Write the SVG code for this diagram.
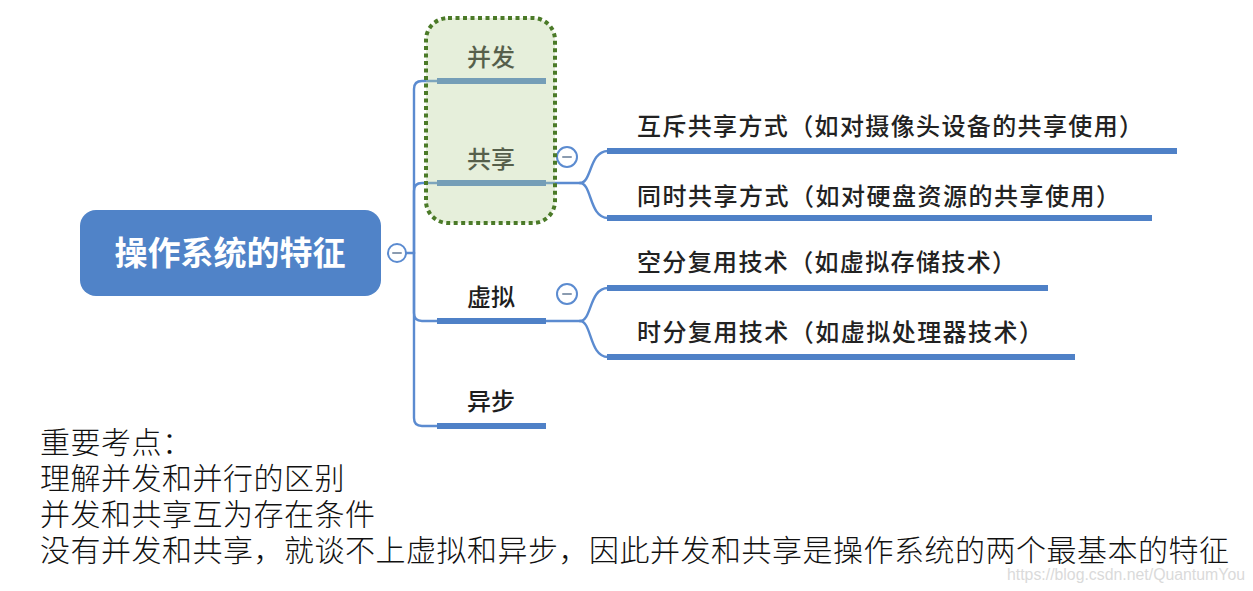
<svg xmlns="http://www.w3.org/2000/svg" width="1253" height="591" viewBox="0 0 1253 591">
<style>
  .conn{fill:none;stroke:#5b8bd0;stroke-width:2.4;stroke-linecap:round}
  .bar{fill:#4f81c7}
  .lbl{font-family:"Noto Sans CJK SC","Noto Sans",sans-serif;font-size:24px;font-weight:500;fill:#1e1e1e;text-anchor:middle}
  .sub{font-family:"Noto Sans CJK SC","Noto Sans",sans-serif;font-size:24px;font-weight:500;fill:#222}
  .tog{fill:#fff;stroke:#5b8bd0;stroke-width:2}
  .minus{stroke:#8a9bb0;stroke-width:2;stroke-linecap:round}
  .note{font-family:"Liberation Serif","Noto Sans CJK SC",serif;font-size:30px;font-weight:300;fill:#111;letter-spacing:0.5px}
</style>
<rect width="1253" height="591" fill="#fff"/>

<g id="connectors">
  <path class="conn" d="M406 253 H414"/>
  <path class="conn" d="M414 253 V89 Q414 81 422 81 H440"/>
  <path class="conn" d="M414 253 V191 Q414 183 422 183 H440"/>
  <path class="conn" d="M414 253 V313 Q414 321 422 321 H440"/>
  <path class="conn" d="M414 253 V418 Q414 426 422 426 H440"/>
  <path class="conn" d="M546 183 H580"/>
  <path class="conn" d="M580 183 C592 183 589 151 608 151"/>
  <path class="conn" d="M580 183 C592 183 589 218 608 218"/>
  <path class="conn" d="M546 321 H580"/>
  <path class="conn" d="M580 321 C592 321 589 288 608 288"/>
  <path class="conn" d="M580 321 C592 321 589 357 608 357"/>
</g>

<g id="root">
  <rect x="80" y="210" width="301" height="86" rx="16" fill="#5083c8"/>
  <text x="230" y="265" font-family="'Noto Sans CJK SC','Noto Sans',sans-serif" font-size="33" font-weight="700" fill="#fff" text-anchor="middle">操作系统的特征</text>
  <circle class="tog" cx="397" cy="253" r="9"/>
  <line class="minus" x1="393" y1="253" x2="401" y2="253"/>
</g>

<g id="node-bingfa">
  <rect class="bar" x="437" y="78" width="109" height="6"/>
  <text class="lbl" x="491" y="66">并发</text>
</g>

<g id="node-gongxiang">
  <rect class="bar" x="437" y="180" width="109" height="6"/>
  <text class="lbl" x="491" y="168">共享</text>
  <circle class="tog" cx="567" cy="157" r="10"/>
  <line class="minus" x1="563" y1="157" x2="571" y2="157"/>
</g>

<g id="node-xuni">
  <rect class="bar" x="437" y="318" width="109" height="6"/>
  <text class="lbl" x="491" y="306">虚拟</text>
  <circle class="tog" cx="567" cy="294" r="10"/>
  <line class="minus" x1="563" y1="294" x2="571" y2="294"/>
</g>

<g id="node-yibu">
  <rect class="bar" x="437" y="423" width="109" height="6"/>
  <text class="lbl" x="491" y="410">异步</text>
</g>

<g id="node-huchi">
  <rect class="bar" x="607" y="148" width="570" height="6"/>
  <text class="sub" x="637" y="135" textLength="506" lengthAdjust="spacing">互斥共享方式（如对摄像头设备的共享使用）</text>
</g>

<g id="node-tongshi">
  <rect class="bar" x="607" y="215" width="545" height="6"/>
  <text class="sub" x="637" y="205" textLength="483" lengthAdjust="spacing">同时共享方式（如对硬盘资源的共享使用）</text>
</g>

<g id="node-kongfen">
  <rect class="bar" x="607" y="285" width="441" height="6"/>
  <text class="sub" x="637" y="271" textLength="379" lengthAdjust="spacing">空分复用技术（如虚拟存储技术）</text>
</g>

<g id="node-shifen">
  <rect class="bar" x="607" y="354" width="468" height="6"/>
  <text class="sub" x="637" y="341" textLength="406" lengthAdjust="spacing">时分复用技术（如虚拟处理器技术）</text>
</g>

<g id="highlight">
  <rect x="426" y="18" width="129" height="205" rx="22" fill="#b9d29b" fill-opacity="0.36" stroke="#4b7a28" stroke-width="4" stroke-dasharray="4 3.5"/>
</g>

<g id="notes">
  <text class="note" x="40" y="453">重要考点：</text>
  <text class="note" x="40" y="489">理解并发和并行的区别</text>
  <text class="note" x="40" y="525">并发和共享互为存在条件</text>
  <text class="note" x="40" y="561">没有并发和共享，就谈不上虚拟和异步，因此并发和共享是操作系统的两个最基本的特征</text>
</g>

<text x="1007" y="580" font-family="'Liberation Sans',sans-serif" font-size="16" fill="#dadada" textLength="238" lengthAdjust="spacingAndGlyphs">https://blog.csdn.net/QuantumYou</text>
</svg>
